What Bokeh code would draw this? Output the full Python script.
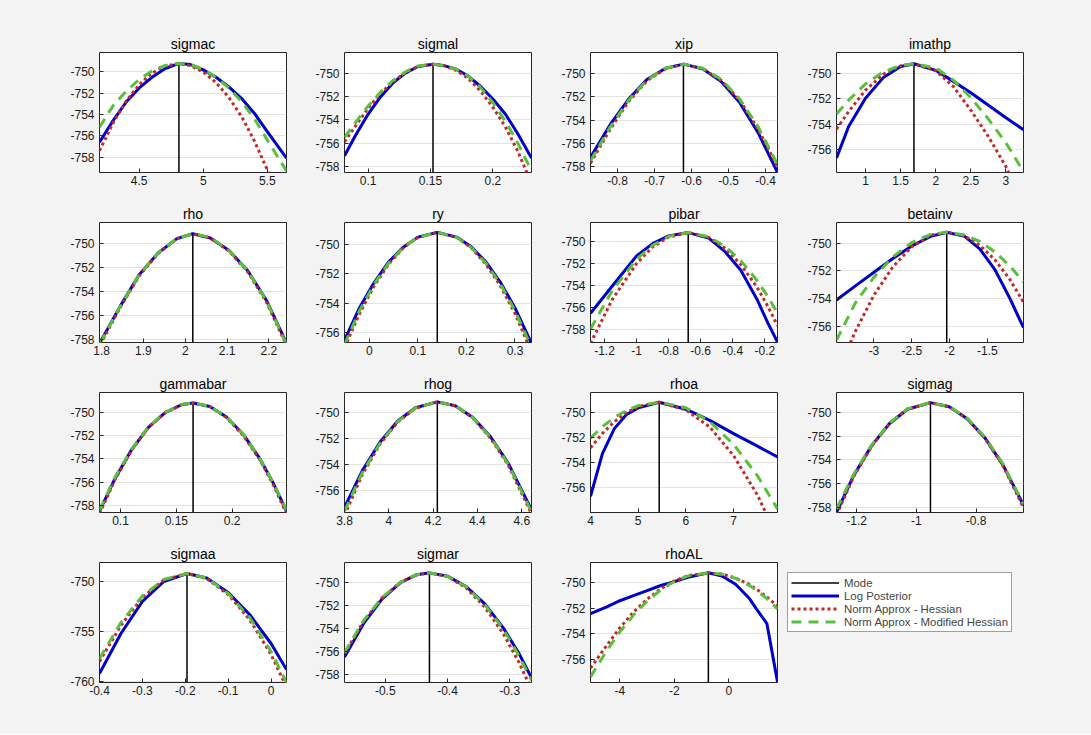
from bokeh.plotting import figure
from bokeh.models import Range1d, FixedTicker, NumeralTickFormatter, Legend, LegendItem
from bokeh.layouts import row, column
from bokeh.embed import file_html
from bokeh.resources import INLINE

# ---------------- data ----------------
names = ["sigmac", "sigmal", "xip", "imathp", "rho", "ry", "pibar", "betainv",
         "gammabar", "rhog", "rhoa", "sigmag", "sigmaa", "sigmar", "rhoAL"]

sigmac_x = [4.19, 4.3, 4.4, 4.5, 4.6, 4.7, 4.81, 4.9, 5.0, 5.1, 5.2, 5.3, 5.4, 5.5, 5.65]
sigmac_post = [-756.6, -754.5, -752.8, -751.5, -750.5, -749.7, -749.2, -749.3, -749.8, -750.5, -751.4, -752.5, -753.9, -755.6, -758.1]
sigmac_hess = [-757.4, -754.7, -752.7, -751.2, -750.1, -749.45, -749.2, -749.4, -750.0, -751.0, -752.4, -754.2, -756.5, -759.2, -764.0]
sigmac_mhess = [-755.2, -753.1, -751.8, -750.7, -749.9, -749.4, -749.2, -749.3, -749.75, -750.5, -751.5, -752.8, -754.4, -756.4, -759.3]

sigmal_x = [0.081, 0.09, 0.1, 0.11, 0.12, 0.13, 0.14, 0.152, 0.16, 0.17, 0.18, 0.19, 0.2, 0.21, 0.22, 0.231]
sigmal_post = [-757.1, -755.3, -753.5, -752.0, -750.8, -749.95, -749.4, -749.2, -749.3, -749.6, -750.2, -751.1, -752.2, -753.5, -755.2, -757.3]
sigmal_hess = [-755.9, -754.5, -753.0, -751.7, -750.7, -749.9, -749.4, -749.2, -749.3, -749.7, -750.4, -751.5, -752.9, -754.6, -756.7, -759.5]
sigmal_mhess = [-755.5, -754.2, -752.8, -751.6, -750.6, -749.85, -749.35, -749.2, -749.3, -749.6, -750.2, -751.2, -752.5, -754.1, -756.0, -758.4]

xip_x = [-0.873, -0.82, -0.77, -0.72, -0.67, -0.622, -0.57, -0.52, -0.47, -0.42, -0.368]
xip_post = [-757.2, -754.4, -752.2, -750.5, -749.55, -749.2, -749.6, -750.7, -752.5, -755.1, -758.5]
xip_hess = [-757.7, -754.8, -752.4, -750.6, -749.6, -749.2, -749.6, -750.6, -752.3, -754.8, -758.0]
xip_mhess = [-757.5, -754.6, -752.3, -750.55, -749.55, -749.2, -749.55, -750.5, -752.2, -754.6, -757.8]

imathp_x = [0.587, 0.76, 1.0, 1.25, 1.5, 1.69, 2.0, 2.25, 2.5, 2.75, 3.0, 3.25]
imathp_post = [-756.7, -754.2, -751.95, -750.32, -749.41, -749.2, -749.72, -750.6, -751.5, -752.5, -753.5, -754.45]
imathp_hess = [-754.4, -753.0, -751.3, -750.05, -749.36, -749.2, -749.75, -751.0, -752.9, -755.0, -757.4, -760.5]
imathp_mhess = [-753.2, -752.1, -750.8, -749.86, -749.32, -749.2, -749.53, -750.5, -751.9, -753.6, -755.5, -757.8]

rho_x = [1.797, 1.845, 1.89, 1.935, 1.98, 2.018, 2.06, 2.105, 2.15, 2.195, 2.242]
rho_post = [-758.2, -755.2, -752.6, -750.8, -749.6, -749.2, -749.55, -750.6, -752.3, -754.8, -758.3]
rho_hess = [-758.4, -755.3, -752.7, -750.85, -749.6, -749.2, -749.55, -750.65, -752.4, -754.95, -758.5]
rho_mhess = [-758.3, -755.2, -752.6, -750.8, -749.6, -749.2, -749.5, -750.6, -752.3, -754.85, -758.4]

ry_x = [-0.051, -0.02, 0.01, 0.04, 0.07, 0.1, 0.14, 0.18, 0.21, 0.24, 0.27, 0.3, 0.334]
ry_post = [-756.5, -754.3, -752.6, -751.2, -750.2, -749.52, -749.2, -749.52, -750.18, -751.2, -752.58, -754.32, -756.73]
ry_hess = [-757.0, -754.7, -752.83, -751.35, -750.25, -749.54, -749.2, -749.54, -750.25, -751.35, -752.83, -754.7, -757.3]
ry_mhess = [-756.8, -754.5, -752.7, -751.28, -750.22, -749.53, -749.2, -749.53, -750.22, -751.28, -752.7, -754.5, -757.0]

pibar_x = [-1.2875, -1.15, -1.0, -0.9, -0.8, -0.678, -0.55, -0.45, -0.35, -0.25, -0.18, -0.121]
pibar_post = [-756.5, -754.0, -751.3, -750.2, -749.5, -749.2, -749.7, -750.9, -752.6, -755.2, -757.4, -759.1]
pibar_hess = [-759.2, -755.2, -752.0, -750.5, -749.6, -749.2, -749.64, -750.6, -752.1, -754.1, -755.9, -757.6]
pibar_mhess = [-757.9, -754.4, -751.6, -750.36, -749.55, -749.2, -749.58, -750.42, -751.73, -753.5, -755.0, -756.5]

betainv_x = [-3.496, -3.25, -3.0, -2.75, -2.5, -2.25, -2.037, -1.8, -1.6, -1.4, -1.2, -1.021]
betainv_post = [-754.1, -753.1, -752.1, -751.1, -750.2, -749.5, -749.2, -749.5, -750.4, -751.9, -754.0, -756.1]
betainv_hess = [-759.6, -756.4, -753.74, -751.7, -750.25, -749.42, -749.2, -749.48, -750.14, -751.19, -752.63, -754.26]
betainv_mhess = [-757.0, -754.35, -752.45, -750.98, -749.95, -749.36, -749.2, -749.4, -749.87, -750.62, -751.65, -752.8]

gammabar_x = [0.0812, 0.095, 0.11, 0.125, 0.14, 0.155, 0.165, 0.18, 0.195, 0.21, 0.225, 0.237, 0.2487]
gammabar_post = [-758.5, -755.7, -753.2, -751.3, -750.03, -749.33, -749.2, -749.5, -750.4, -751.9, -754.0, -756.1, -758.5]
gammabar_hess = [-758.7, -755.8, -753.25, -751.3, -750.05, -749.33, -749.2, -749.5, -750.45, -752.0, -754.1, -756.25, -758.7]
gammabar_mhess = [-758.4, -755.6, -753.15, -751.25, -750.0, -749.32, -749.2, -749.5, -750.4, -751.9, -754.0, -756.1, -758.4]

rhog_x = [3.8, 3.88, 3.96, 4.04, 4.12, 4.219, 4.3, 4.38, 4.46, 4.54, 4.644]
rhog_post = [-757.3, -754.5, -752.3, -750.67, -749.65, -749.2, -749.5, -750.4, -751.9, -753.94, -757.5]
rhog_hess = [-757.9, -754.8, -752.45, -750.75, -749.7, -749.2, -749.5, -750.45, -752.0, -754.1, -757.8]
rhog_mhess = [-757.6, -754.65, -752.4, -750.7, -749.67, -749.2, -749.5, -750.42, -751.95, -754.0, -757.65]

rhoa_x = [4.0, 4.25, 4.5, 4.75, 5.0, 5.44, 6.0, 6.5, 7.0, 7.5, 7.92]
rhoa_post = [-756.7, -753.3, -751.3, -750.2, -749.65, -749.2, -749.75, -750.64, -751.7, -752.7, -753.56]
rhoa_hess = [-752.83, -751.68, -750.75, -750.03, -749.54, -749.2, -749.8, -751.17, -753.46, -756.6, -760.0]
rhoa_mhess = [-752.06, -751.15, -750.42, -749.86, -749.47, -749.2, -749.63, -750.75, -752.56, -755.06, -757.7]

sigmag_x = [-1.2676, -1.21, -1.15, -1.09, -1.03, -0.953, -0.89, -0.83, -0.77, -0.71, -0.6415]
sigmag_post = [-758.4, -755.3, -752.8, -750.95, -749.75, -749.2, -749.55, -750.54, -752.17, -754.43, -757.8]
sigmag_hess = [-758.6, -755.4, -752.85, -750.95, -749.75, -749.2, -749.55, -750.55, -752.2, -754.5, -758.0]
sigmag_mhess = [-758.1, -755.2, -752.75, -750.9, -749.72, -749.2, -749.54, -750.5, -752.1, -754.35, -757.7]

sigmaa_x = [-0.4, -0.35, -0.3, -0.25, -0.196, -0.15, -0.1, -0.05, 0.0, 0.036]
sigmaa_post = [-759.2, -755.2, -752.0, -750.0, -749.2, -749.65, -751.1, -753.3, -756.2, -758.8]
sigmaa_hess = [-758.0, -754.4, -751.6, -749.85, -749.2, -749.7, -751.3, -753.8, -757.3, -760.56]
sigmaa_mhess = [-757.7, -754.1, -751.45, -749.8, -749.2, -749.65, -751.2, -753.6, -757.0, -760.1]

sigmar_x = [-0.5655, -0.535, -0.505, -0.475, -0.45, -0.429, -0.4, -0.37, -0.34, -0.31, -0.285, -0.265]
sigmar_post = [-756.5, -753.6, -751.46, -750.03, -749.37, -749.2, -749.48, -750.38, -751.88, -753.99, -756.2, -758.3]
sigmar_hess = [-756.2, -753.4, -751.37, -749.99, -749.37, -749.2, -749.52, -750.5, -752.17, -754.5, -756.98, -759.29]
sigmar_mhess = [-756.1, -753.35, -751.33, -749.98, -749.36, -749.2, -749.5, -750.4, -751.95, -754.1, -756.4, -758.5]

rhoAL_x = [-5.08, -4.5, -4.0, -3.5, -3.0, -2.5, -2.0, -1.5, -0.75, -0.25, 0.25, 0.75, 1.0, 1.4, 1.79]
rhoAL_post = [-752.42, -751.9, -751.4, -751.0, -750.6, -750.2, -749.9, -749.55, -749.2, -749.45, -750.1, -751.2, -752.0, -753.2, -757.8]
rhoAL_hess = [-756.7, -754.97, -753.53, -752.3, -751.28, -750.46, -749.84, -749.43, -749.2, -749.3, -749.61, -750.12, -750.46, -751.1, -751.85]
rhoAL_mhess = [-757.4, -755.39, -753.85, -752.53, -751.43, -750.55, -749.89, -749.45, -749.2, -749.31, -749.64, -750.19, -750.55, -751.23, -752.04]

modes = [4.81, 0.152, -0.622, 1.69, 2.018, 0.14, -0.678, -2.037,
         0.165, 4.219, 5.44, -0.953, -0.196, -0.429, -0.75]

xticks = [[4.5, 5, 5.5], [0.1, 0.15, 0.2], [-0.8, -0.7, -0.6, -0.5, -0.4], [1, 1.5, 2, 2.5, 3],
          [1.8, 1.9, 2, 2.1, 2.2], [0, 0.1, 0.2, 0.3], [-1.2, -1, -0.8, -0.6, -0.4, -0.2], [-3, -2.5, -2, -1.5],
          [0.1, 0.15, 0.2], [3.8, 4, 4.2, 4.4, 4.6], [4, 5, 6, 7], [-1.2, -1, -0.8],
          [-0.4, -0.3, -0.2, -0.1, 0], [-0.5, -0.4, -0.3], [-4, -2, 0]]
Y8 = [-758, -756, -754, -752, -750]
Y6 = [-756, -754, -752, -750]
yticks = [Y8, Y8, Y8, Y6, Y8, Y6, Y8, Y6, Y8, Y6, Y6, Y8, [-760, -755, -750], Y8, Y6]

# axis limits
xlims = [(4.19, 5.65), (0.081, 0.231), (-0.873, -0.368), (0.587, 3.25),
         (1.795, 2.242), (-0.051, 0.334), (-1.2875, -0.121), (-3.496, -1.021),
         (0.0812, 0.2487), (3.8, 4.644), (4.0, 7.92), (-1.2676, -0.6415),
         (-0.40, 0.036), (-0.5655, -0.265), (-5.08, 1.79)]
ylims = [(-759.45, -748.17), (-758.54, -748.19), (-758.5, -748.2), (-757.86, -748.30),
         (-758.25, -748.26), (-756.66, -748.53), (-759.13, -748.29), (-757.17, -748.5),
         (-758.6, -748.3), (-757.7, -748.48), (-757.99, -748.42), (-758.4, -748.35),
         (-760.1, -748.1), (-758.7, -748.3), (-757.84, -748.39)]

series = {
    "sigmac": (sigmac_x, sigmac_post, sigmac_hess, sigmac_mhess),
    "sigmal": (sigmal_x, sigmal_post, sigmal_hess, sigmal_mhess),
    "xip": (xip_x, xip_post, xip_hess, xip_mhess),
    "imathp": (imathp_x, imathp_post, imathp_hess, imathp_mhess),
    "rho": (rho_x, rho_post, rho_hess, rho_mhess),
    "ry": (ry_x, ry_post, ry_hess, ry_mhess),
    "pibar": (pibar_x, pibar_post, pibar_hess, pibar_mhess),
    "betainv": (betainv_x, betainv_post, betainv_hess, betainv_mhess),
    "gammabar": (gammabar_x, gammabar_post, gammabar_hess, gammabar_mhess),
    "rhog": (rhog_x, rhog_post, rhog_hess, rhog_mhess),
    "rhoa": (rhoa_x, rhoa_post, rhoa_hess, rhoa_mhess),
    "sigmag": (sigmag_x, sigmag_post, sigmag_hess, sigmag_mhess),
    "sigmaa": (sigmaa_x, sigmaa_post, sigmaa_hess, sigmaa_mhess),
    "sigmar": (sigmar_x, sigmar_post, sigmar_hess, sigmar_mhess),
    "rhoAL": (rhoAL_x, rhoAL_post, rhoAL_hess, rhoAL_mhess),
}

legend_labels = ["Mode", "Log Posterior", "Norm Approx - Hessian", "Norm Approx - Modified Hessian"]

# ---------------- styling ----------------
BG = "#f3f3f3"
FONT = "Liberation Sans"
C_MODE = "#000000"
C_POST = "#0000cd"
C_HESS = "#c62828"
C_MH = "#5cbf3c"
AX = "#262626"

FW, FH = 187, 120
LEFTS = [99, 54, 55, 55]
RIGHTS = [4, 4, 4, 67]
TOPS = [52, 22, 22, 22]
BOTTOMS = [28, 28, 28, 52]
TOTAL_W = 1090


def style_axis(ax):
    ax.axis_line_color = None
    ax.major_tick_in = 4
    ax.major_tick_out = 0
    ax.minor_tick_line_color = None
    ax.major_tick_line_color = AX
    ax.major_label_text_font = FONT
    ax.major_label_text_font_size = "12px"
    ax.major_label_text_color = "#1a1a1a"
    ax.formatter = NumeralTickFormatter(format="0.[00]")


def make_panel(i, r, c, right_border):
    name = names[i]
    x, post, hess, mhess = series[name]
    p = figure(frame_width=FW, frame_height=FH,
               min_border_left=LEFTS[c], min_border_right=right_border,
               min_border_top=TOPS[r], min_border_bottom=BOTTOMS[r],
               x_range=Range1d(*xlims[i]), y_range=Range1d(*ylims[i]),
               output_backend="svg", toolbar_location=None, tools="",
               title=name)
    p.border_fill_color = BG
    p.background_fill_color = "white"
    p.outline_line_color = AX
    p.outline_line_width = 1
    p.title.align = "center"
    p.title.text_font = FONT
    p.title.text_font_size = "14px"
    p.title.text_font_style = "normal"
    p.title.text_color = "#000000"
    p.title.standoff = 2

    p.xaxis.ticker = FixedTicker(ticks=xticks[i])
    p.yaxis.ticker = FixedTicker(ticks=yticks[i])
    style_axis(p.xaxis[0])
    style_axis(p.yaxis[0])
    p.xaxis.major_label_standoff = 3
    p.yaxis.major_label_standoff = 5
    p.xgrid.visible = False
    p.ygrid.ticker = FixedTicker(ticks=yticks[i])
    p.ygrid.grid_line_color = "#e3e3e3"
    p.ygrid.grid_line_width = 1

    m = modes[i]
    r_mode = p.line([m, m], [ylims[i][0], max(post)], line_color=C_MODE, line_width=1.5)
    r_post = p.line(x, post, line_color=C_POST, line_width=3, line_join="round")
    r_hess = p.line(x, hess, line_color=C_HESS, line_width=3, line_dash="3 3")
    r_mh = p.line(x, mhess, line_color=C_MH, line_width=3, line_dash="10 7")
    return p, [r_mode, r_post, r_hess, r_mh]


def add_legend(p, renderers):
    items = [LegendItem(label=lab, renderers=[rr])
             for lab, rr in zip(legend_labels, renderers)]
    leg = Legend(items=items, location="top_left")
    leg.label_text_font = FONT
    leg.label_text_font_size = "11.4px"
    leg.label_height = 13
    leg.glyph_height = 13
    leg.glyph_width = 48
    leg.label_standoff = 5
    leg.spacing = 0
    leg.padding = 3
    leg.margin = 10
    leg.border_line_color = "#404040"
    leg.border_line_width = 1
    leg.background_fill_color = "white"
    leg.background_fill_alpha = 1
    p.add_layout(leg, "right")


rows = []
idx = 0
for r in range(4):
    figs = []
    x0 = 0
    for c in range(4):
        if idx >= len(names):
            break
        right = RIGHTS[c]
        last = (idx == len(names) - 1)
        if last:
            right = TOTAL_W - x0 - LEFTS[c] - FW
        p, rends = make_panel(idx, r, c, right)
        if last:
            add_legend(p, rends)
        figs.append(p)
        x0 += LEFTS[c] + FW + right
        idx += 1
    rows.append(row(*figs, spacing=0, styles={"background-color": BG}))

layout = column(*rows, spacing=0, styles={"background-color": BG})

open("out.html", "w").write(file_html(layout, INLINE))
